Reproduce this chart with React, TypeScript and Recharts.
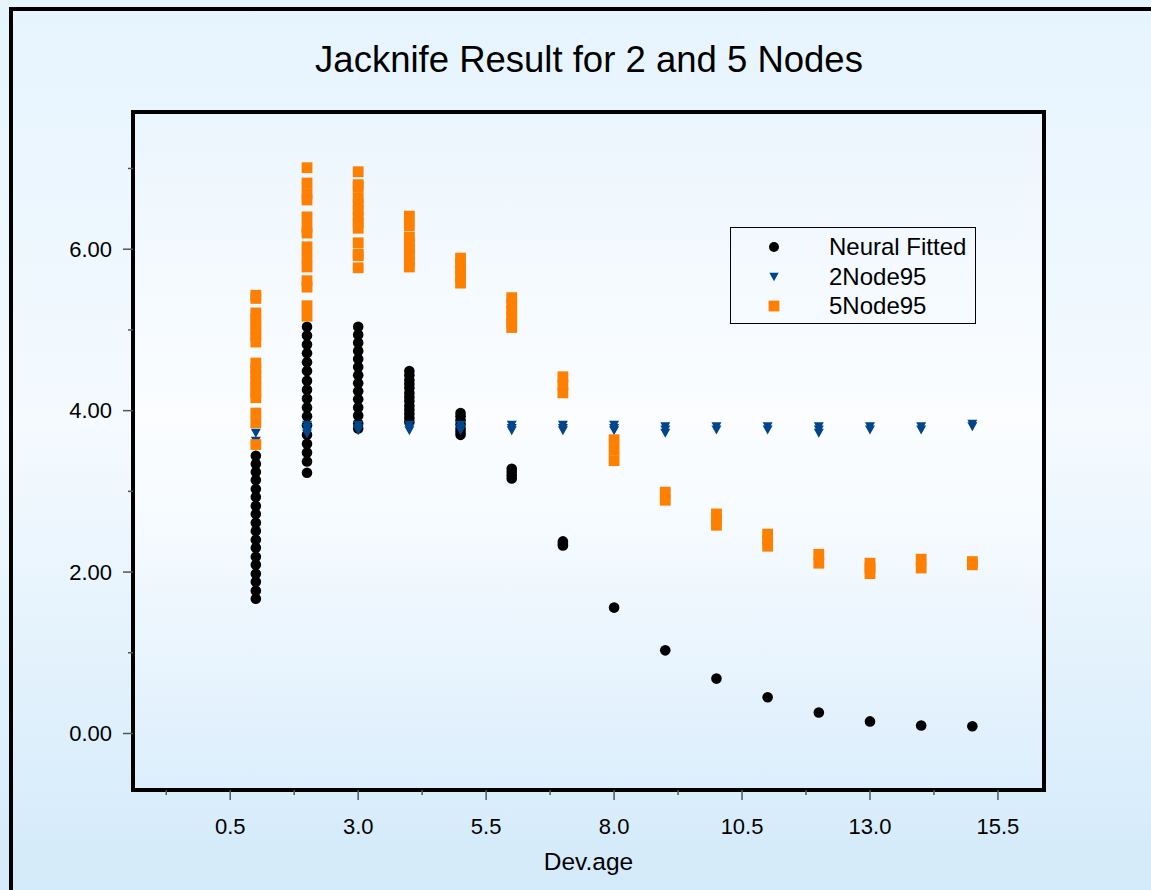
import React from 'react';
import { ScatterChart, Scatter, XAxis, YAxis, ReferenceArea, Legend } from 'recharts';

// ---------- data ----------
const devAge = [1, 2, 3, 4, 5, 6, 7, 8, 9, 10, 11, 12, 13, 14, 15];

const neuralFitted: number[][] = [
  [1.67, 1.77, 1.88, 1.98, 2.09, 2.19, 2.3, 2.4, 2.51, 2.61, 2.72, 2.82, 2.93, 3.03, 3.14, 3.24, 3.34, 3.44],
  [3.23, 3.37, 3.48, 3.59, 3.7, 3.82, 3.93, 4.04, 4.15, 4.26, 4.37, 4.49, 4.6, 4.71, 4.82, 4.93, 5.04],
  [3.78, 3.84, 3.94, 4.04, 4.14, 4.24, 4.34, 4.44, 4.54, 4.64, 4.74, 4.84, 4.94, 5.04],
  [3.86, 3.91, 3.96, 4.01, 4.06, 4.12, 4.17, 4.22, 4.28, 4.33, 4.38, 4.44, 4.49],
  [3.7, 3.74, 3.78, 3.83, 3.88, 3.93, 3.97],
  [3.16, 3.2, 3.24, 3.28],
  [2.33, 2.35, 2.38],
  [1.56],
  [1.03],
  [0.68],
  [0.45],
  [0.26],
  [0.15],
  [0.1],
  [0.09],
];

const twoNode95: number[][] = [
  [3.62, 3.72],
  [3.71, 3.74, 3.78, 3.82],
  [3.75, 3.78, 3.82],
  [3.75, 3.78, 3.82],
  [3.75, 3.78, 3.82],
  [3.75, 3.78, 3.82],
  [3.75, 3.78, 3.82],
  [3.75, 3.78, 3.82],
  [3.72, 3.76, 3.8],
  [3.76, 3.8],
  [3.76, 3.8],
  [3.72, 3.76, 3.8],
  [3.76, 3.8],
  [3.76, 3.8],
  [3.8, 3.83],
];

const fiveNode95: number[][] = [
  [3.58, 3.85, 3.97, 4.16, 4.23, 4.3, 4.37, 4.45, 4.52, 4.59, 4.85, 4.93, 5.0, 5.07, 5.14, 5.21, 5.39, 5.43],
  [5.17, 5.3, 5.53, 5.61, 5.78, 5.9, 6.03, 6.2, 6.27, 6.4, 6.61, 6.69, 6.82, 7.01],
  [5.77, 5.92, 5.94, 6.08, 6.26, 6.33, 6.4, 6.48, 6.56, 6.64, 6.77, 6.8, 6.96],
  [5.78, 5.85, 5.93, 6.0, 6.07, 6.15, 6.29, 6.41],
  [5.58, 5.66, 5.74, 5.82, 5.89],
  [5.03, 5.09, 5.17, 5.24, 5.32, 5.4],
  [4.22, 4.32, 4.42],
  [3.38, 3.51, 3.64],
  [2.89, 2.99],
  [2.58, 2.65, 2.72],
  [2.32, 2.4, 2.47],
  [2.11, 2.22],
  [1.98, 2.05, 2.11],
  [2.05, 2.16],
  [2.09, 2.13],
];

const xTicks = [-0.75, 0.5, 1.75, 3, 4.25, 5.5, 6.75, 8, 9.25, 10.5, 11.75, 13, 14.25, 15.5];
const xMajorTicks = [0.5, 3, 5.5, 8, 10.5, 13, 15.5];
const yTicks = [0, 1, 2, 3, 4, 5, 6, 7];
const yMajorTicks = [0, 2, 4, 6];

const seriesNames = ['Neural Fitted', '2Node95', '5Node95'];
const titleText = 'Jacknife Result for 2 and 5 Nodes';
const xTitle = 'Dev.age';

// ---------- layout / style ----------
const W = 1151;
const H = 890;
const X_DOMAIN: [number, number] = [-1.4, 16.4];
const Y_DOMAIN: [number, number] = [-0.7, 7.7];
const FONT = "'Liberation Sans', Arial, Helvetica, sans-serif";
const X_TICK_SIZE = 10;
const X_TICK_MARGIN = 18;
const Y_TICK_SIZE = 10;
const Y_TICK_MARGIN = 11;
const Y_AXIS_W = 60;
const X_AXIS_H = 90;
const MARGIN = { top: 112, right: 107, left: 133 - Y_AXIS_W, bottom: 890 - 790 - X_AXIS_H };

const BLACK = '#000000';
const BLUE = '#00458a';
const ORANGE = '#ff8000';
const TICK_COLOR = '#555555';

const toPoints = (vals: number[][]) =>
  devAge.flatMap((x, i) => vals[i].map((y) => ({ x, y })));

const neuralPts = toPoints(neuralFitted);
const twoPts = toPoints(twoNode95);
const fivePts = toPoints(fiveNode95);

const getC = (p: any) => ({
  cx: p.cx ?? (p.x ?? 0) + (p.width ?? 0) / 2,
  cy: p.cy ?? (p.y ?? 0) + (p.height ?? 0) / 2,
});

const CircleShape = (p: any) => {
  const { cx, cy } = getC(p);
  return <circle cx={cx} cy={cy} r={5.3} fill={BLACK} />;
};
const TriShape = (p: any) => {
  const { cx, cy } = getC(p);
  return <path d={`M${cx - 5},${cy - 4.5}L${cx + 5},${cy - 4.5}L${cx},${cy + 4.5}Z`} fill={BLUE} />;
};
const SquareShape = (p: any) => {
  const { cx, cy } = getC(p);
  return <rect x={cx - 5.4} y={cy - 5.4} width={10.8} height={10.8} fill={ORANGE} />;
};

const XTick = (props: any) => {
  const { x, y, payload } = props;
  const v = payload.value as number;
  const axisY = y - X_TICK_SIZE - X_TICK_MARGIN;
  const major = xMajorTicks.includes(v);
  return (
    <g>
      <line x1={x} x2={x} y1={axisY} y2={axisY + (major ? 10 : 5)} stroke={TICK_COLOR} strokeWidth={1.5} />
      {major && (
        <text x={x} y={y} dy="0.71em" textAnchor="middle" fontFamily={FONT} fontSize={22} fill="#000">
          {v.toFixed(1)}
        </text>
      )}
    </g>
  );
};

const YTick = (props: any) => {
  const { x, y, payload } = props;
  const v = payload.value as number;
  const axisX = x + Y_TICK_SIZE + Y_TICK_MARGIN;
  const major = yMajorTicks.includes(v);
  return (
    <g>
      <line x1={axisX - (major ? 10 : 5)} x2={axisX} y1={y} y2={y} stroke={TICK_COLOR} strokeWidth={1.5} />
      {major && (
        <text x={x} y={y} dy="0.355em" textAnchor="end" fontFamily={FONT} fontSize={22} fill="#000">
          {v.toFixed(2)}
        </text>
      )}
    </g>
  );
};

const LegendIcon = ({ kind }: { kind: number }) => (
  <svg width={20} height={20} style={{ display: 'block' }}>
    {kind === 0 && <circle cx={10} cy={10} r={5} fill={BLACK} />}
    {kind === 1 && <path d="M5.3,5.8L14.7,5.8L10,14.2Z" fill={BLUE} />}
    {kind === 2 && <rect x={4.6} y={4.6} width={10.8} height={10.8} fill={ORANGE} />}
  </svg>
);

const LegendBox = () => (
  <div
    style={{
      position: 'relative',
      width: 246,
      height: 97,
      border: '1.5px solid #000',
      boxSizing: 'border-box',
      fontFamily: FONT,
      fontSize: 24,
      color: '#000',
    }}
  >
    {seriesNames.map((name, i) => (
      <div
        key={name}
        style={{
          position: 'absolute',
          left: 0,
          top: 4 + i * 29.5,
          height: 30,
          width: '100%',
          display: 'flex',
          alignItems: 'center',
        }}
      >
        <div style={{ position: 'absolute', left: 33 }}>
          <LegendIcon kind={i} />
        </div>
        <div style={{ position: 'absolute', left: 98, whiteSpace: 'nowrap', lineHeight: '30px' }}>{name}</div>
      </div>
    ))}
  </div>
);

export default function App() {
  return (
    <div
      style={{
        position: 'absolute',
        left: 0,
        top: 0,
        width: W,
        height: H,
        overflow: 'hidden',
        background: 'linear-gradient(to bottom, #e6f4fe 0%, #f4faff 48%, #d3eafa 100%)',
      }}
    >
      {/* outer frame */}
      <div
        style={{
          position: 'absolute',
          left: 9,
          top: 7,
          width: 3000,
          height: 3000,
          borderLeft: '4px solid #000',
          borderTop: '4px solid #000',
        }}
      />
      {/* plot background */}
      <div
        style={{
          position: 'absolute',
          left: 133,
          top: 112,
          width: 911,
          height: 678,
          background: 'linear-gradient(to bottom, #ecf6fe 0%, #fbfdff 45%, #f6fbff 60%, #dceefc 100%)',
        }}
      />
      {/* title */}
      <svg width={W} height={100} style={{ position: 'absolute', left: 0, top: 0 }}>
        <text x={589} y={72} textAnchor="middle" fontFamily={FONT} fontSize={36.5} fill="#000">
          {titleText}
        </text>
      </svg>
      <div style={{ position: 'absolute', left: 0, top: 0 }}>
        <ScatterChart width={W} height={H} margin={MARGIN}>
          <XAxis
            type="number"
            dataKey="x"
            domain={X_DOMAIN}
            ticks={xTicks}
            interval={0}
            allowDataOverflow
            height={X_AXIS_H}
            axisLine={false}
            tickLine={{ stroke: 'transparent' }}
            tickSize={X_TICK_SIZE}
            tickMargin={X_TICK_MARGIN}
            tick={<XTick />}
            label={{
              value: xTitle,
              position: 'insideBottom',
              offset: 10,
              fontFamily: FONT,
              fontSize: 24.5,
              fill: '#000',
            }}
          />
          <YAxis
            type="number"
            dataKey="y"
            domain={Y_DOMAIN}
            ticks={yTicks}
            interval={0}
            allowDataOverflow
            width={Y_AXIS_W}
            axisLine={false}
            tickLine={{ stroke: 'transparent' }}
            tickSize={Y_TICK_SIZE}
            tickMargin={Y_TICK_MARGIN}
            tick={<YTick />}
          />
          <ReferenceArea
            x1={X_DOMAIN[0]}
            x2={X_DOMAIN[1]}
            y1={Y_DOMAIN[0]}
            y2={Y_DOMAIN[1]}
            fill="none"
            fillOpacity={0}
            stroke="#000"
            strokeWidth={4}
            ifOverflow="visible"
          />
          <Scatter name={seriesNames[0]} data={neuralPts} shape={CircleShape} isAnimationActive={false} />
          <Scatter name={seriesNames[1]} data={twoPts} shape={TriShape} isAnimationActive={false} />
          <Scatter name={seriesNames[2]} data={fivePts} shape={SquareShape} isAnimationActive={false} />
          <Legend
            layout="vertical"
            align="center"
            verticalAlign="middle"
            content={() => <LegendBox />}
            wrapperStyle={{ left: 730, top: 227, width: 246, height: 97 }}
          />
        </ScatterChart>
      </div>
    </div>
  );
}
